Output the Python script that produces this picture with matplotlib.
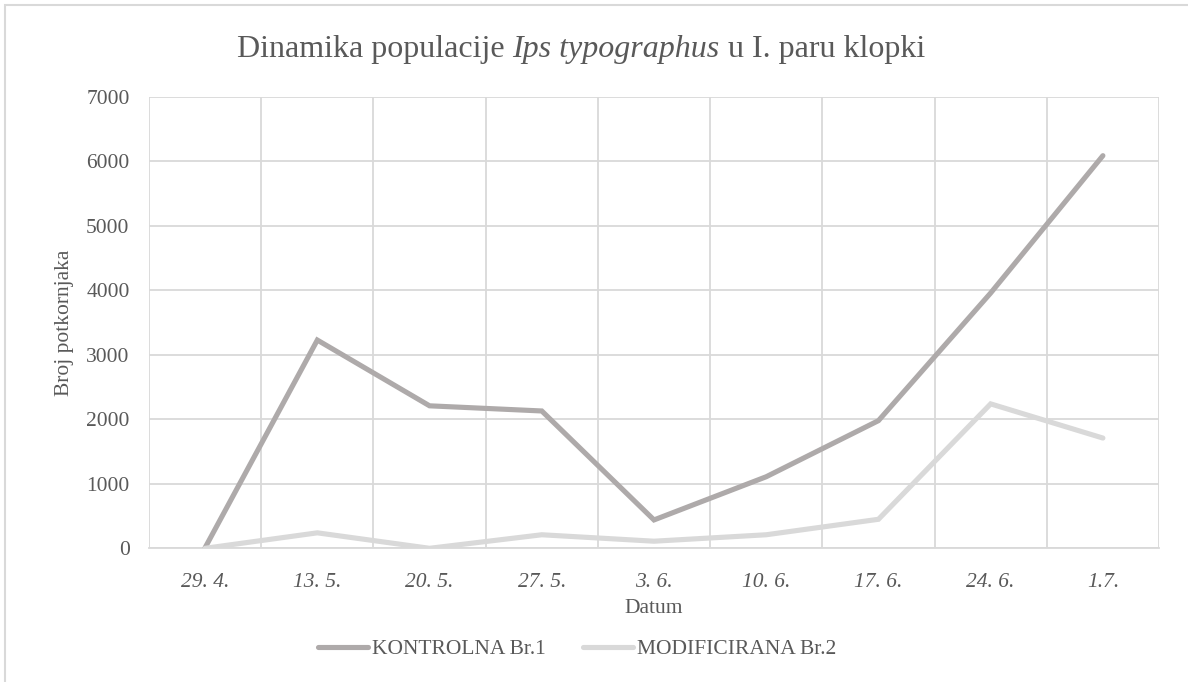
import matplotlib
matplotlib.use("Agg")
import matplotlib.pyplot as plt
from matplotlib.patches import Rectangle
from matplotlib.lines import Line2D

categories = ["29. 4.", "13. 5.", "20. 5.", "27. 5.", "3. 6.", "10. 6.", "17. 6.", "24. 6.", "1.7."]
kontrolna = [10, 3230, 2210, 2130, 440, 1110, 1980, 3960, 6090]
modificirana = [0, 240, 0, 210, 110, 210, 450, 2240, 1710]
series_names = ["KONTROLNA Br.1", "MODIFICIRANA Br.2"]
yticks = [0, 1000, 2000, 3000, 4000, 5000, 6000, 7000]

W, H = 1188, 682
plt.rcParams['font.family'] = ['Liberation Serif', 'DejaVu Serif']
txt = '#595959'
grid_c = '#D9D9D9'
c1 = '#AEAAAA'
c2 = '#D9D9D9'
fs = 15.5

fig = plt.figure(figsize=(W/100, H/100), dpi=100)
fig.patch.set_facecolor('white')

# outer chart border (clipped)
fig.add_artist(Rectangle((5/W, -0.1), 1.2, 1 - 5/H + 0.1, transform=fig.transFigure,
                         fill=False, edgecolor='#D9D9D9', linewidth=1.5))

ax = fig.add_axes([149/W, 1 - 548.3/H, (1159-149)/W, (548.3-97)/H])
x = list(range(len(categories)))
ax.plot(x, kontrolna, color=c1, linewidth=3.7, solid_capstyle='round', solid_joinstyle='miter', zorder=3)
ax.plot(x, modificirana, color=c2, linewidth=3.7, solid_capstyle='round', solid_joinstyle='miter', zorder=3)

ax.set_xlim(-0.5, len(categories) - 0.5)
ax.set_ylim(0, 7000)
ax.set_yticks(yticks)
ax.set_yticklabels([str(v) for v in yticks])
ax.set_xticks(x)
ax.set_xticklabels(categories, fontstyle='italic')
ax.set_xticks([i - 0.5 for i in range(len(categories) + 1)], minor=True)
ax.grid(True, which='major', axis='y', color=grid_c, linewidth=1.3)
ax.grid(True, which='minor', axis='x', color=grid_c, linewidth=1.3)
ax.grid(False, which='major', axis='x')
for s in ax.spines.values():
    s.set_visible(False)
ax.spines['bottom'].set_visible(True)
ax.spines['bottom'].set_color(grid_c)
ax.spines['bottom'].set_linewidth(1.3)
ax.tick_params(axis='both', which='both', length=0, labelsize=fs, labelcolor=txt)
ax.tick_params(axis='y', pad=14)
ax.tick_params(axis='x', pad=18)
ax.set_axisbelow(True)

ax.set_ylabel("Broj potkornjaka", fontsize=fs, color=txt, labelpad=9)
ax.set_xlabel("Datum", fontsize=fs, color=txt, labelpad=5)

# Title with italic part
fig.canvas.draw()
r = fig.canvas.get_renderer()
parts = [("Dinamika populacije ", 'normal'), ("Ips typographus", 'italic'), (" u I. paru klopki", 'normal')]
ty = 1 - 50/H
objs = []
for s, st in parts:
    t = fig.text(0, ty, s, fontsize=23, color=txt, fontstyle=st, ha='left', va='center')
    objs.append(t)
widths = [o.get_window_extent(r).width for o in objs]
total = sum(widths)
cx = 581
start = cx - total/2
for o, w in zip(objs, widths):
    o.set_x(start/W)
    start += w

colors = [c1, c2]
starts = [318, 583]
for name, col, sx in zip(series_names, colors, starts):
    h = Line2D([], [], color=col, linewidth=3.7, solid_capstyle='round')
    leg = fig.legend([h], [name], loc='center left', bbox_to_anchor=(sx/W, 1 - 649/H),
                     frameon=False, fontsize=fs, handlelength=2.3, handletextpad=0.2,
                     borderpad=0, borderaxespad=0)
    for t in leg.get_texts():
        t.set_color(txt)

fig.savefig("out.png", dpi=100)
